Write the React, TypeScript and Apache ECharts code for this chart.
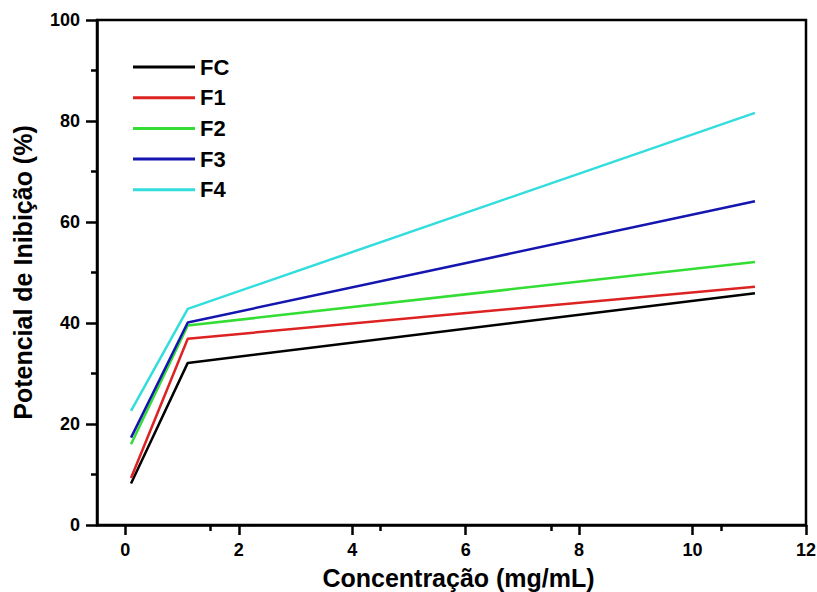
import React, { useEffect, useRef } from "react";
import * as echarts from "echarts";

const concentrations = [0.1, 1.1, 11.1];
const seriesNames = ["FC", "F1", "F2", "F3", "F4"];
const fcValues = [8.2, 32.1, 45.9];
const f1Values = [9.3, 36.9, 47.2];
const f2Values = [16.0, 39.5, 52.1];
const f3Values = [17.3, 40.1, 64.1];
const f4Values = [22.6, 42.8, 81.6];
const xTickValues = [0, 2, 4, 6, 8, 10, 12];
const seriesColors = ["#000000", "#dd2222", "#33dd33", "#1515b0", "#33dddd"];

export default function App() {
  const ref = useRef<HTMLDivElement>(null);
  useEffect(() => {
    if (!ref.current) return;
    const chart = echarts.init(ref.current, null, { renderer: "svg" });
    const all = [fcValues, f1Values, f2Values, f3Values, f4Values];
    const font = "Liberation Sans";
    chart.setOption({
      animation: false,
      backgroundColor: "#ffffff",
      grid: {
        left: 97,
        right: 11,
        top: 20,
        bottom: 67,
        outerBoundsMode: "none",
        containLabel: false,
        show: true,
        borderColor: "#000",
        borderWidth: 2.5,
      },
      legend: {
        orient: "vertical",
        left: 128,
        top: 51,
        icon: "rect",
        itemWidth: 62,
        itemHeight: 3,
        itemGap: 8.7,
        data: seriesNames,
        textStyle: { fontFamily: font, fontWeight: "bold", fontSize: 22, lineHeight: 22, color: "#000" },
      },
      xAxis: {
        type: "value",
        min: -0.5,
        max: 12,
        name: "Concentração (mg/mL)",
        nameLocation: "middle",
        nameGap: 40,
        nameTextStyle: {
          fontFamily: font,
          fontWeight: "bold",
          fontSize: 25,
          lineHeight: 25,
          color: "#000",
          padding: [0, 0, 0, 14],
        },
        axisLine: { onZero: false, lineStyle: { color: "#000", width: 2.5 } },
        axisTick: { length: 10, lineStyle: { color: "#000", width: 2.5 }, customValues: xTickValues },
        minorTick: { show: true, splitNumber: 2, length: 6, lineStyle: { color: "#000", width: 2.5 } },
        axisLabel: {
          margin: 16,
          fontFamily: font,
          fontWeight: "bold",
          fontSize: 18,
          color: "#000",
          customValues: xTickValues,
        },
        splitLine: { show: false },
      },
      yAxis: {
        type: "value",
        min: 0,
        max: 100,
        interval: 20,
        name: "Potencial de Inibição (%)",
        nameLocation: "middle",
        nameGap: 62,
        nameTextStyle: { fontFamily: font, fontWeight: "bold", fontSize: 25, color: "#000" },
        axisLine: { show: true, onZero: false, lineStyle: { color: "#000", width: 2.5 } },
        axisTick: { show: true, length: 11, lineStyle: { color: "#000", width: 2.5 } },
        minorTick: { show: true, splitNumber: 2, length: 6, lineStyle: { color: "#000", width: 2.5 } },
        axisLabel: { margin: 17, fontFamily: font, fontWeight: "bold", fontSize: 18, color: "#000" },
        splitLine: { show: false },
      },
      series: seriesNames.map((name, i) => ({
        name,
        type: "line",
        symbol: "none",
        color: seriesColors[i],
        lineStyle: { width: 2.5, color: seriesColors[i] },
        data: concentrations.map((c, j) => [c, all[i][j]]),
      })),
    });
    return () => chart.dispose();
  }, []);
  return <div ref={ref} style={{ width: 817, height: 592, position: "absolute", left: 0, top: 0 }} />;
}
